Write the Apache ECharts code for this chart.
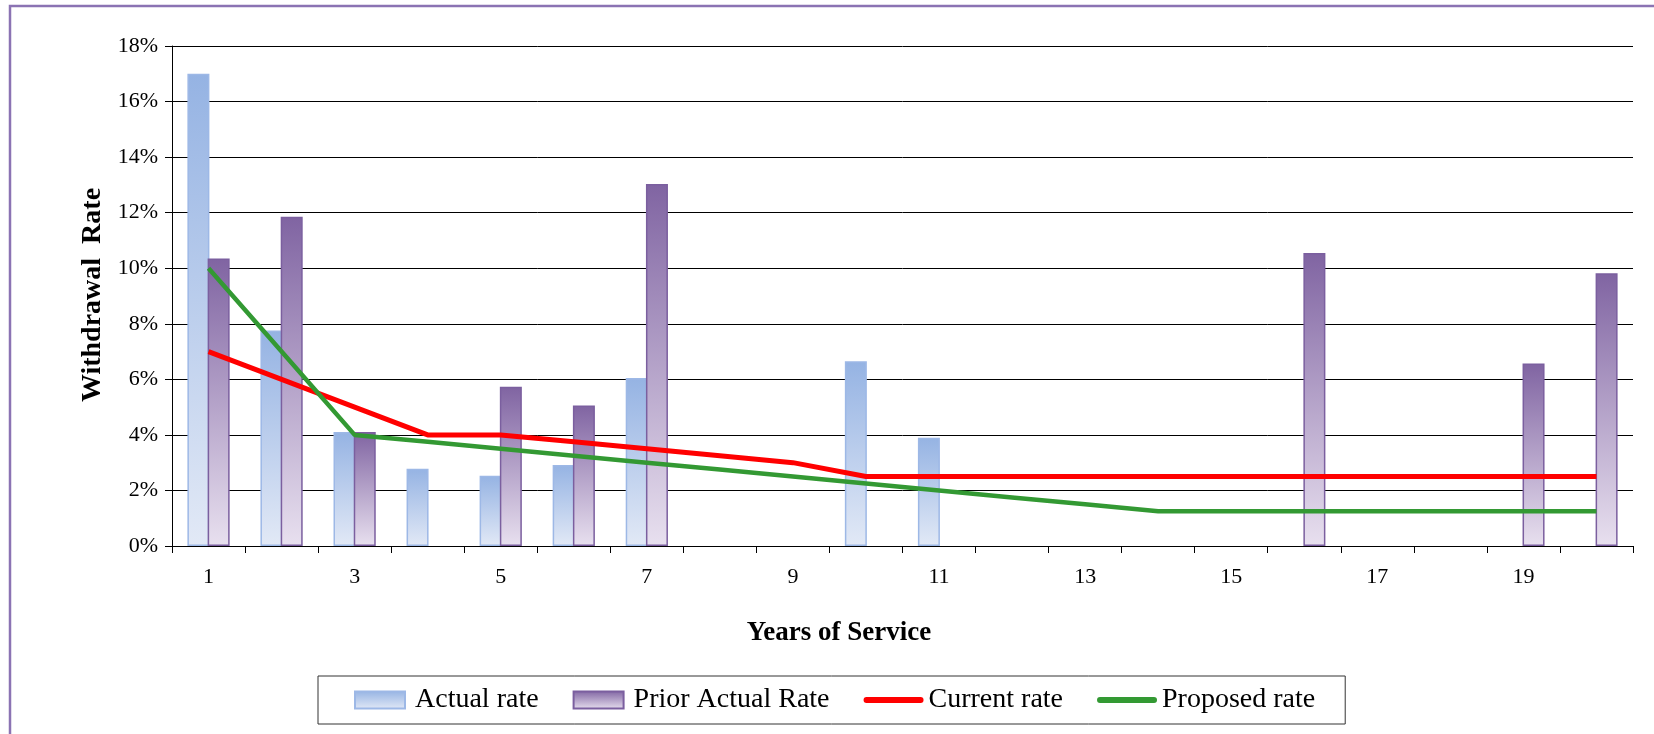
<!DOCTYPE html>
<html>
<head>
<meta charset="utf-8">
<script src="https://cdn.jsdelivr.net/npm/echarts@6/dist/echarts.min.js"></script>
<style>
html,body{margin:0;padding:0;background:#fff;}
#chart{width:1654px;height:734px;}
</style>
</head>
<body>
<div id="chart"></div>
<script>
// Data (values in percent)
const categories = ['1','2','3','4','5','6','7','8','9','10','11','12','13','14','15','16','17','18','19','20'];
const actualRate = [17.0, 7.76, 4.1, 2.78, 2.53, 2.92, 6.05, 0, 0, 6.65, 3.9, 0, 0, 0, 0, 0, 0, 0, 0, 0];
const priorActualRate = [10.35, 11.85, 4.1, 0, 5.73, 5.06, 13.03, 0, 0, 0, 0, 0, 0, 0, 0, 10.55, 0, 0, 6.57, 9.82];
const currentRate = [7.0, 6.0, 5.0, 4.0, 4.0, 3.75, 3.5, 3.25, 3.0, 2.5, 2.5, 2.5, 2.5, 2.5, 2.5, 2.5, 2.5, 2.5, 2.5, 2.5];
const proposedRate = [10.0, 7.0, 4.0, 3.75, 3.5, 3.25, 3.0, 2.75, 2.5, 2.25, 2.0, 1.75, 1.5, 1.25, 1.25, 1.25, 1.25, 1.25, 1.25, 1.25];
const yTicks = {min: 0, max: 18, interval: 2};

const serif = '"Liberation Serif", "Times New Roman", serif';
const chart = echarts.init(document.getElementById('chart'));

function grad(top, bottom) {
  return new echarts.graphic.LinearGradient(0, 0, 0, 1, [
    {offset: 0, color: top}, {offset: 1, color: bottom}
  ]);
}
// zero means "no bar" in the reference
const barData = arr => arr.map(v => (v === 0 ? '-' : v));
const lineIcon = 'path://M3,0 L57,0 A3,3 0 0 1 57,6 L3,6 A3,3 0 0 1 3,0 Z';
const barIcon = 'path://M0,0 L50,0 L50,17 L0,17 Z';

chart.setOption({
  animation: false,
  backgroundColor: '#fff',
  grid: {left: 172, right: 21, top: 46, bottom: 188, containLabel: false},
  graphic: [
    {type: 'rect', shape: {x: 10, y: 6, width: 1700, height: 800},
     style: {fill: 'none', stroke: '#8b73b3', lineWidth: 2.5}, silent: true, z: 0},
    {type: 'text', x: 93, y: 295, rotation: Math.PI / 2,
     style: {text: 'Withdrawal  Rate', font: 'bold 28px ' + serif, fill: '#000',
             align: 'center', verticalAlign: 'middle'}},
    {type: 'text', x: 839, y: 633,
     style: {text: 'Years of Service', font: 'bold 27px ' + serif, fill: '#000',
             align: 'center', verticalAlign: 'middle'}}
  ],
  legend: {
    left: 318, top: 676,
    padding: [10, 30, 10, 36],
    itemGap: 34,
    itemWidth: 60, itemHeight: 17,
    itemTextGap: 1,
    symbolKeepAspect: true,
    borderColor: '#333', borderWidth: 1,
    backgroundColor: '#fff',
    textStyle: {fontFamily: serif, fontSize: 28, color: '#000'},
    data: [
      {name: 'Actual rate', icon: barIcon},
      {name: 'Prior Actual Rate', icon: barIcon},
      {name: 'Current rate', icon: lineIcon},
      {name: 'Proposed rate', icon: lineIcon}
    ]
  },
  xAxis: {
    type: 'category',
    data: categories,
    boundaryGap: true,
    axisLine: {show: true, lineStyle: {color: '#000', width: 1}},
    axisTick: {show: true, interval: 0, alignWithLabel: false, length: 7, lineStyle: {color: '#000'}},
    axisLabel: {interval: 1, margin: 20, fontFamily: serif, fontSize: 22, color: '#000'},
    splitLine: {show: false}
  },
  yAxis: {
    type: 'value',
    min: yTicks.min, max: yTicks.max, interval: yTicks.interval,
    axisLine: {show: true, lineStyle: {color: '#000', width: 1}},
    axisTick: {show: true, length: 7, lineStyle: {color: '#000'}},
    axisLabel: {margin: 14, fontFamily: serif, fontSize: 22, color: '#000', formatter: '{value}%'},
    splitLine: {show: true, lineStyle: {color: '#000', width: 1}}
  },
  series: [
    {
      name: 'Actual rate', type: 'bar', data: barData(actualRate),
      barWidth: 22, barGap: '-8%',
      itemStyle: {color: grad('#95b3e3', '#e2e9f6'), borderColor: '#9db8e6', borderWidth: 1.5}
    },
    {
      name: 'Prior Actual Rate', type: 'bar', data: barData(priorActualRate),
      barWidth: 22,
      itemStyle: {color: grad('#8064a2', '#e8e0ef'), borderColor: '#7b5f9f', borderWidth: 1.5}
    },
    {
      name: 'Current rate', type: 'line', data: currentRate,
      showSymbol: false, symbol: 'none',
      lineStyle: {color: '#ff0000', width: 5}, itemStyle: {color: '#ff0000'}, z: 5
    },
    {
      name: 'Proposed rate', type: 'line', data: proposedRate,
      showSymbol: false, symbol: 'none',
      lineStyle: {color: '#339933', width: 4.5}, itemStyle: {color: '#339933'}, z: 5
    }
  ]
});
</script>
</body>
</html>
